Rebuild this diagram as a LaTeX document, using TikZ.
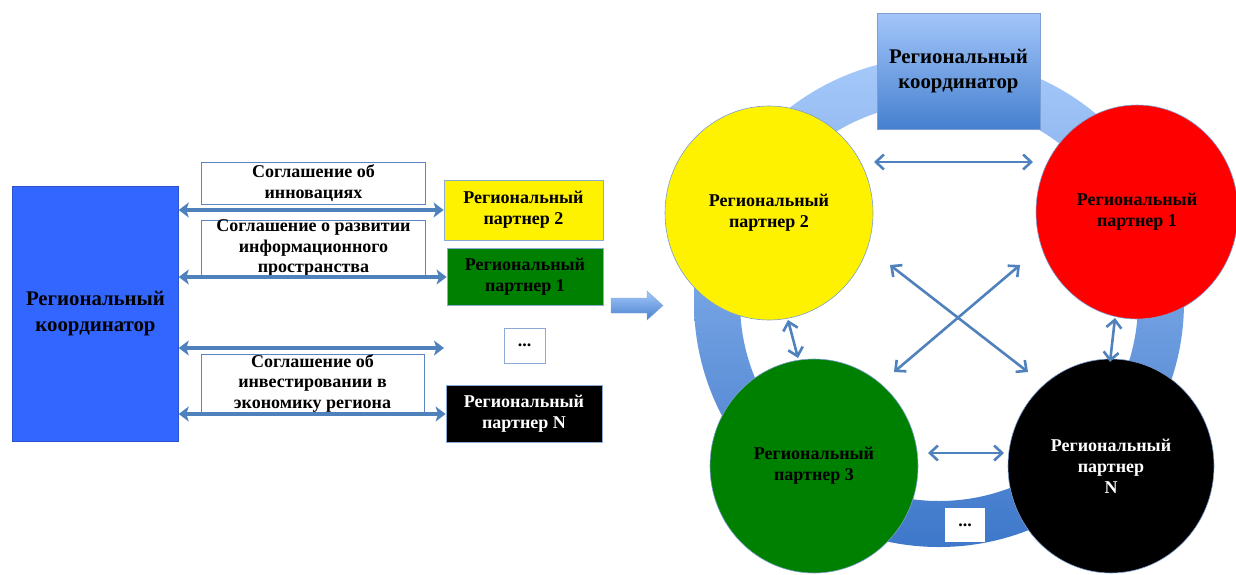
\documentclass[tikz,border=0pt]{standalone}
\usepackage{fontspec}
\setmainfont{Liberation Serif}
\usetikzlibrary{arrows.meta,shapes.geometric}
\definecolor{coordblue}{HTML}{3366FF}
\definecolor{arrowblue}{HTML}{4F81BD}
\definecolor{boxline}{HTML}{5B86C5}
\definecolor{ringtop}{HTML}{A6C9FA}
\definecolor{ringbot}{HTML}{3E78CA}
\definecolor{ctop}{HTML}{A3C6FA}
\definecolor{cbot}{HTML}{4680CF}
\definecolor{ptgreen}{HTML}{008000}
\tikzset{
  agbox/.style={draw=boxline, line width=0.8pt, fill=white, rectangle, inner sep=0pt},
  agtext/.style={align=center, font=\fontsize{18}{20.5}\selectfont\bfseries, inner sep=0pt},
  ptbox/.style={draw=boxline!70, line width=0.8pt, rectangle, inner sep=0pt, align=center,
    font=\fontsize{18}{21}\selectfont\bfseries},
  ptell/.style={ellipse, draw=boxline!80, line width=0.6pt, inner sep=0pt, align=center,
    font=\fontsize{18}{21}\selectfont\bfseries},
  larrow/.style={draw=arrowblue, line width=3.5pt,
    {Stealth[length=10pt,width=15pt,inset=2.5pt]}-{Stealth[length=10pt,width=15pt,inset=2.5pt]}},
  rarrow/.style={draw=arrowblue, line width=2.6pt,
    {Straight Barb[length=8pt,width=15pt]}-{Straight Barb[length=8pt,width=15pt]}},
}
\begin{document}
\begin{tikzpicture}[x=1pt,y=-1pt]
\path[use as bounding box] (0,0) rectangle (1236,574);

% ---------- left part ----------
\node[rectangle, fill=coordblue, draw=coordblue!80!black, line width=0.5pt,
      minimum width=166pt, minimum height=255pt, inner sep=0pt, align=center,
      font=\fontsize{20.8}{26}\selectfont\bfseries] (lc) at (95.5,313.5)
      {Региональный\\координатор};

\node[agbox, minimum width=224pt, minimum height=42pt] (ag1) at (313.5,183) {};
\node[agtext] (ag1t) at (ag1) {Соглашение об\\инновациях};
\node[agbox, minimum width=224pt, minimum height=56pt] (ag2) at (313.5,248) {};
\node[agtext] (ag2t) at (ag2) {Соглашение о развитии\\информационного\\пространства};
\node[agbox, minimum width=223pt, minimum height=58pt] (ag3) at (312.5,383) {};
\node[agtext] (ag3t) at (ag3) {Соглашение об\\инвестировании в\\экономику региона};

\node[ptbox, fill=yellow, minimum width=159pt, minimum height=60pt] (p2) at (523.5,210)
  {Региональный\\партнер 2};
\node[ptbox, fill=ptgreen, minimum width=156pt, minimum height=57pt] (p1) at (525,277)
  {Региональный\\партнер 1};
\node[ptbox, fill=white, minimum width=41pt, minimum height=35pt] (pd) at (524.5,345.5) {...};
\node[ptbox, fill=black, text=white, minimum width=156pt, minimum height=57pt] (pN) at (524,414)
  {Региональный\\партнер N};

\coordinate (e3) at (444,348);
\draw[larrow] (lc.east |- p2.west) -- (p2.west);
\draw[larrow] (lc.east |- p1.west) -- (p1.west);
\draw[larrow] (lc.east |- e3) -- (e3);
\draw[larrow] (lc.east |- pN.west) -- (pN.west);

% block arrow
\shade[top color=ringtop, bottom color=cbot, draw=arrowblue!70, line width=0.4pt]
  (611,298) -- (647,298) -- (647,291) -- (663,305.5) -- (647,320) -- (647,313) -- (611,313) -- cycle;

% ---------- right part ----------
\shade[top color=ringtop, bottom color=ringbot, even odd rule]
  (939,302) circle[radius=245pt] (939,302) circle[radius=199pt];

\node[rectangle, top color=ctop, bottom color=cbot, draw=boxline!80, line width=0.5pt,
      minimum width=163pt, minimum height=116pt, inner sep=0pt, align=center,
      font=\fontsize{20.8}{25}\selectfont\bfseries] (rc) at (958.5,71)
      {Региональный\\координатор};

\node[ptell, fill=yellow, minimum width=208pt, minimum height=214pt] (ey) at (769,213)
  {Региональный\\партнер 2};
\node[ptell, fill=red, minimum width=202pt, minimum height=214pt] (er) at (1137,212)
  {Региональный\\партнер 1};
\node[ptell, fill=ptgreen, minimum width=208pt, minimum height=214pt] (eg) at (814,466)
  {Региональный\\партнер 3};
\node[ptell, fill=black, text=white, minimum width=206pt, minimum height=214pt] (eb) at (1111,466)
  {Региональный\\партнер\\N};

\node[rectangle, fill=white, minimum width=40pt, minimum height=34pt, inner sep=0pt,
      font=\fontsize{18}{20}\selectfont\bfseries] (rd) at (965,525) {...};

\coordinate (t1) at (874,162);   \coordinate (t2) at (1033,162);
\coordinate (c1) at (890,265);   \coordinate (c2) at (1028,372);
\coordinate (c3) at (1020,265);  \coordinate (c4) at (894,372);
\coordinate (l1) at (788,320);   \coordinate (l2) at (798,358);
\coordinate (r1) at (1115,318);  \coordinate (r2) at (1110,362);
\coordinate (b1) at (928,453);   \coordinate (b2) at (1004,453);
\draw[rarrow] (t1) -- (t2);
\draw[rarrow] (c1) -- (c2);
\draw[rarrow] (c3) -- (c4);
\draw[rarrow] (l1) -- (l2);
\draw[rarrow] (r1) -- (r2);
\draw[rarrow] (b1) -- (b2);
\end{tikzpicture}
\end{document}
